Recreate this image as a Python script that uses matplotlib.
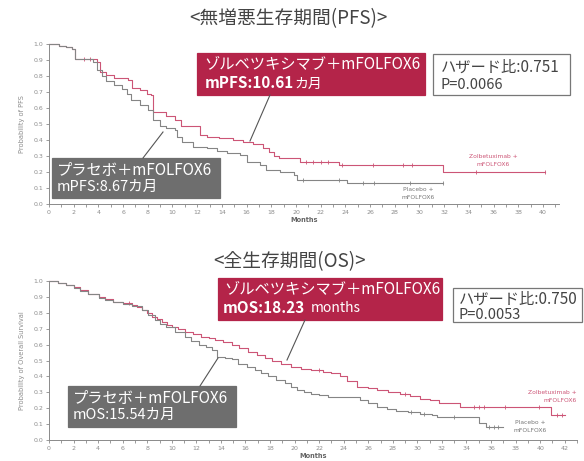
import numpy as np
import matplotlib.pyplot as plt
from matplotlib.patches import Rectangle
from matplotlib.lines import Line2D

plt.rcParams['font.family'] = ['Noto Sans CJK JP', 'DejaVu Sans']

W, H = 584, 461

# ---- PFS curves (step points: month, probability)
pfs_zol_t = [0, 0.8, 1.4, 1.9, 2.1, 3.86, 4.1, 4.6, 5.3, 6.4, 6.7, 7.4, 7.9, 8.3,
             8.4, 9.5, 10.2, 10.7, 11.9, 12.2, 12.8, 13.8, 14.9, 15.7, 16.5,
             17.3, 17.8, 18.2, 18.6, 20.3, 23.5, 31.9, 40.2]
pfs_zol_s = [1.0, 0.99, 0.983, 0.967, 0.907, 0.889, 0.827, 0.806, 0.785, 0.775,
             0.723, 0.71, 0.69, 0.68, 0.577, 0.55, 0.527, 0.49, 0.487, 0.43, 0.42,
             0.41, 0.40, 0.39, 0.373, 0.348, 0.323, 0.30, 0.285, 0.265, 0.245,
             0.20, 0.20]
pfs_pla_t = [0, 0.8, 1.4, 1.9, 2.1, 3.6, 3.9, 4.3, 4.6, 5.3, 5.9, 6.3, 6.6, 7.4,
             8.0, 8.4, 9.0, 9.5, 10.2, 10.4, 10.8, 11.7, 12.8, 13.6, 14.4, 15.5,
             16.0, 17.1, 17.6, 18.7, 19.8, 20.05, 24.1, 31.9]
pfs_pla_s = [1.0, 0.99, 0.983, 0.967, 0.907, 0.885, 0.84, 0.80, 0.77, 0.745,
             0.72, 0.69, 0.65, 0.62, 0.59, 0.525, 0.49, 0.473, 0.46, 0.42, 0.39,
             0.358, 0.35, 0.33, 0.317, 0.306, 0.265, 0.245, 0.21, 0.20, 0.18,
             0.15, 0.13, 0.13]
pfs_zol_cens = [2.8, 3.3, 20.8, 21.4, 22.0, 22.6, 23.7, 26.2, 28.7, 29.4, 34.6, 40.2]
pfs_pla_cens = [20.6, 23.5, 25.4, 26.3, 29.2, 31.9]

# ---- OS curves
os_zol_t = [0, 0.7, 1.4, 2.0, 2.5, 3.2, 4.1, 4.6, 5.2, 6.0, 6.8, 7.2, 7.6, 8.0,
            8.4, 8.8, 9.2, 9.6, 10.0, 10.5, 11.1, 11.7, 12.4, 13.0, 13.5, 14.2,
            14.9, 15.5, 16.2, 16.9, 17.6, 18.2, 18.9, 19.7, 20.5, 21.3, 22.3,
            23.0, 23.7, 24.3, 25.1, 26.0, 26.7, 27.6, 28.6, 29.4, 30.2, 31.0,
            31.8, 33.5, 40.9, 42.0]
os_zol_s = [1.0, 0.99, 0.975, 0.96, 0.943, 0.92, 0.90, 0.885, 0.87, 0.86, 0.85,
            0.835, 0.82, 0.80, 0.775, 0.76, 0.744, 0.725, 0.71, 0.695, 0.68,
            0.665, 0.65, 0.64, 0.63, 0.615, 0.60, 0.58, 0.555, 0.535, 0.514,
            0.497, 0.48, 0.46, 0.447, 0.44, 0.43, 0.42, 0.40, 0.37, 0.335, 0.325,
            0.315, 0.30, 0.29, 0.275, 0.26, 0.25, 0.232, 0.205, 0.157, 0.157]
os_pla_t = [0, 0.7, 1.4, 2.0, 2.5, 3.2, 4.1, 4.6, 5.2, 6.0, 6.8, 7.6, 8.1, 8.6,
            9.0, 9.5, 10.3, 11.1, 11.6, 12.2, 12.8, 13.3, 13.7, 14.3, 14.9, 15.4,
            16.1, 16.8, 17.3, 17.8, 18.5, 19.2, 19.7, 20.2, 20.8, 21.3, 22.0,
            22.7, 25.3, 26.0, 26.7, 27.5, 28.3, 29.2, 30.2, 31.2, 31.6, 35.0,
            35.6, 37.0]
os_pla_s = [1.0, 0.99, 0.975, 0.955, 0.94, 0.92, 0.895, 0.88, 0.865, 0.855, 0.84,
            0.815, 0.785, 0.755, 0.73, 0.71, 0.68, 0.65, 0.625, 0.60, 0.585,
            0.566, 0.52, 0.515, 0.51, 0.48, 0.46, 0.44, 0.42, 0.40, 0.38, 0.357,
            0.335, 0.315, 0.30, 0.29, 0.28, 0.27, 0.25, 0.23, 0.21, 0.195, 0.185,
            0.175, 0.163, 0.157, 0.147, 0.105, 0.084, 0.084]
os_zol_cens = [6.5, 22.0, 29.0, 34.6, 35.0, 35.4, 37.1, 39.9, 41.4, 41.8]
os_pla_cens = [29.5, 30.5, 33.0, 35.8, 36.2, 36.6]

RED_LINE = '#cc5576'
GRAY_LINE = '#858585'
RED_BOX = '#b42449'
GRAY_BOX = '#6e6e6e'
TICK_C = '#8a8a8a'
LATIN = ['DejaVu Sans']


def px(x, y):
    # pixel position (top-left origin) -> figure fraction
    return x / W, 1 - y / H


def step_val(ts, ss, t):
    i = np.searchsorted(ts, t, side='right') - 1
    return ss[max(i, 0)]


def draw_km(ax, t, s, cens, color):
    ax.step(t, s, where='post', color=color, lw=0.8, clip_on=False)
    cy = [step_val(t, s, c) for c in cens]
    ax.plot(cens, cy, ls='none', marker='|', ms=2.5, mew=0.6, color=color, clip_on=False)


def style_axes(ax, xmax, ylab, xtick_max):
    ax.set_xlim(0, xmax)
    ax.set_ylim(0, 1.0)
    for sp in ['top', 'right']:
        ax.spines[sp].set_visible(False)
    for sp in ['left', 'bottom']:
        ax.spines[sp].set_color(TICK_C)
        ax.spines[sp].set_linewidth(0.7)
    ax.set_xticks(np.arange(0, xtick_max + 1, 2))
    ax.set_xticks(np.arange(0, xtick_max + 2, 1), minor=True)
    ax.set_yticks(np.arange(0, 1.01, 0.1))
    ax.set_yticklabels(['%.1f' % v for v in np.arange(0, 1.01, 0.1)])
    ax.tick_params(which='both', direction='out', length=2.5, width=0.6,
                   color=TICK_C, labelsize=4.5, labelcolor='#8c8c8c', pad=1.5)
    ax.set_ylabel(ylab, fontsize=4.8, color='#8c8c8c', labelpad=6, family=LATIN)
    ax.set_xlabel('Months', fontsize=4.8, fontweight='bold', color='#666666',
                  labelpad=2, family=LATIN)
    for lab in ax.get_xticklabels() + ax.get_yticklabels():
        lab.set_family(LATIN)


def small_label(ax, x, y, lines, color, ha='center'):
    for k, s in enumerate(lines):
        ax.text(x, y - k * 0.05, s, fontsize=4.3, color=color, ha=ha,
                va='center', family=LATIN)


def box(fig, x0, y0, x1, y1, face, edge=None):
    fx, fy = px(x0, y1)
    r = Rectangle((fx, fy), (x1 - x0) / W, (y1 - y0) / H, transform=fig.transFigure,
                  facecolor=face, edgecolor=edge if edge else face, lw=0.9)
    fig.patches.append(r)


def leader(fig, x0, y0, x1, y1):
    a, b = px(x0, y0)
    c, d = px(x1, y1)
    fig.lines.append(Line2D([a, c], [b, d], transform=fig.transFigure,
                            color='#555555', lw=0.8))


def txt(fig, x, y, s, **kw):
    fx, fy = px(x, y)
    return fig.text(fx, fy, s, va='center', ha=kw.pop('ha', 'left'), **kw)


def bold_then_plain(fig, x, y, bold, plain, size, size2, gap=0):
    # bold value followed directly by the unit in regular weight
    t = txt(fig, x, y, bold, fontsize=size, color='white', fontweight='bold')
    fig.canvas.draw()
    bb = t.get_window_extent()
    txt(fig, bb.x1 + gap, y + 0.5, plain, fontsize=size2, color='white')


fig = plt.figure(figsize=(5.84, 4.61), dpi=100)

# ---- top panel (PFS)
ax1 = fig.add_axes([49 / W, 1 - 204 / H, 510 / W, 160 / H])
draw_km(ax1, pfs_zol_t, pfs_zol_s, pfs_zol_cens, RED_LINE)
draw_km(ax1, pfs_pla_t, pfs_pla_s, pfs_pla_cens, GRAY_LINE)
style_axes(ax1, 41.3, 'Probability of PFS', 40)
small_label(ax1, 36.0, 0.30, ['Zolbetuximab +', 'mFOLFOX6'], RED_LINE)
small_label(ax1, 29.9, 0.09, ['Placebo +', 'mFOLFOX6'], '#777777')

# ---- bottom panel (OS)
ax2 = fig.add_axes([49 / W, 1 - 440 / H, 528 / W, 159 / H])
draw_km(ax2, os_zol_t, os_zol_s, os_zol_cens, RED_LINE)
draw_km(ax2, os_pla_t, os_pla_s, os_pla_cens, GRAY_LINE)
style_axes(ax2, 42.6, 'Probability of Overall Survival', 42)
small_label(ax2, 43.0, 0.30, ['Zolbetuximab +', 'mFOLFOX6'], RED_LINE, ha='right')
small_label(ax2, 39.2, 0.11, ['Placebo +', 'mFOLFOX6'], '#777777')

# ---- titles
txt(fig, 288, 19, '<無増悪生存期間(PFS)>', fontsize=13.5, color='#444444', ha='center')
txt(fig, 290, 262, '<全生存期間(OS)>', fontsize=13.5, color='#444444', ha='center')

# ---- PFS annotation boxes
leader(fig, 270, 95, 250, 141)
leader(fig, 143, 158, 163, 132)
box(fig, 197, 53, 425, 95, RED_BOX)
box(fig, 433, 54, 570, 95, 'white', '#777777')
box(fig, 52, 158, 220, 198, GRAY_BOX)
txt(fig, 204, 64, 'ゾルベツキシマブ＋mFOLFOX6', fontsize=11, color='white')
bold_then_plain(fig, 205, 83, 'mPFS:10.61', 'カ月', 11, 10)
txt(fig, 441, 67, 'ハザード比:0.751', fontsize=11, color='#444444')
txt(fig, 441, 85, 'P=0.0066', fontsize=10.5, color='#444444')
txt(fig, 57, 170, 'プラセボ＋mFOLFOX6', fontsize=11, color='white')
txt(fig, 57, 187, 'mPFS:8.67カ月', fontsize=10.5, color='white')

# ---- OS annotation boxes
leader(fig, 305, 320, 287, 360)
leader(fig, 200, 386, 218, 358)
box(fig, 218, 278, 442, 320, RED_BOX)
box(fig, 453, 288, 582, 322, 'white', '#777777')
box(fig, 68, 386, 236, 427, GRAY_BOX)
txt(fig, 224, 289, 'ゾルベツキシマブ＋mFOLFOX6', fontsize=11, color='white')
bold_then_plain(fig, 223, 308, 'mOS:18.23', 'months', 11, 10, gap=5)
txt(fig, 459, 299, 'ハザード比:0.750', fontsize=11, color='#444444')
txt(fig, 459, 315, 'P=0.0053', fontsize=10.5, color='#444444')
txt(fig, 73, 398, 'プラセボ＋mFOLFOX6', fontsize=11, color='white')
txt(fig, 73, 415, 'mOS:15.54カ月', fontsize=10.5, color='white')

fig.savefig('out.png', dpi=100)
